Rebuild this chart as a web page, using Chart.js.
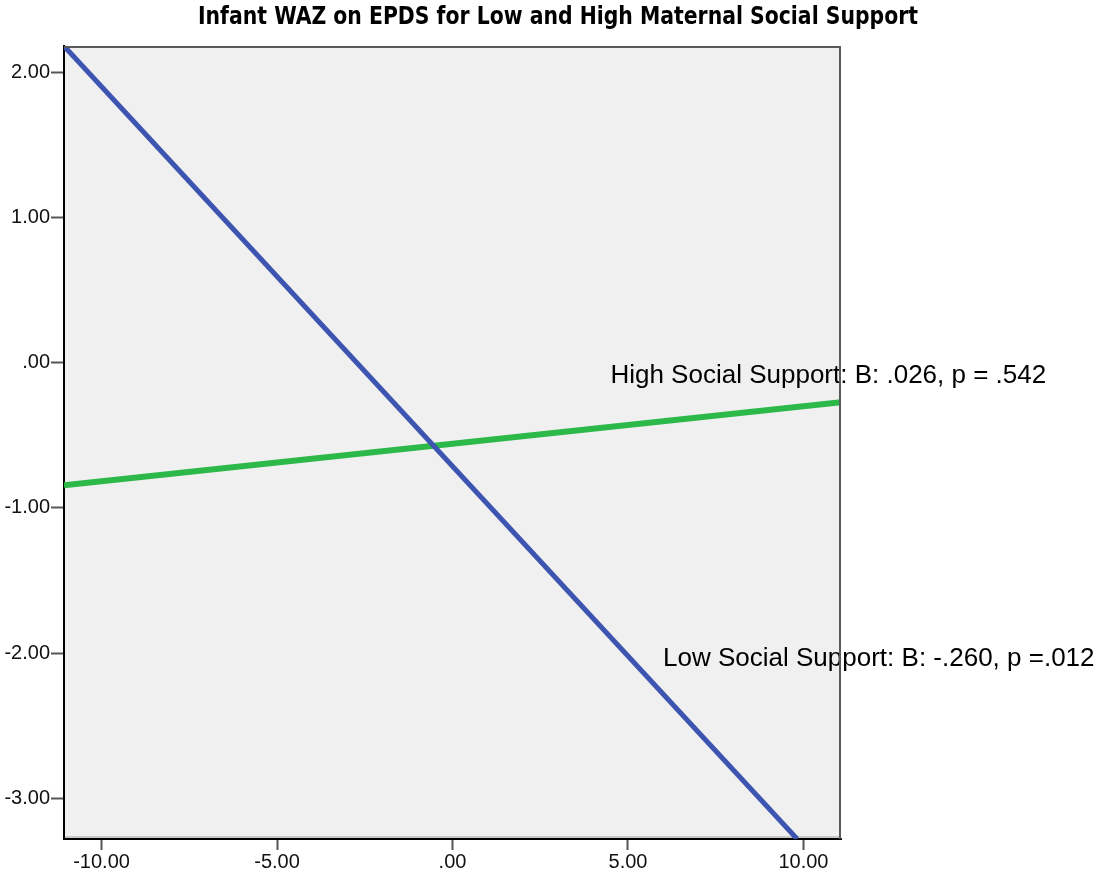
<!DOCTYPE html>
<html>
<head>
<meta charset="utf-8">
<script src="https://cdn.jsdelivr.net/npm/chart.js@4/dist/chart.umd.min.js"></script>
<style>
  html, body { margin: 0; padding: 0; background: #ffffff; }
  #wrap { width: 1099px; height: 877px; }
  canvas { display: block; }
</style>
</head>
<body>
<div id="wrap"><canvas id="c" width="1099" height="877"></canvas></div>
<script>
// Chart text
const chartTitle = 'Infant WAZ on EPDS for Low and High Maternal Social Support';
const lowLabel = 'Low Social Support: B: -.260, p =.012';
const highLabel = 'High Social Support: B: .026, p = .542';

// Axis ticks
const xTicks = [-10, -5, 0, 5, 10];
const yTicks = [2, 1, 0, -1, -2, -3];

// Fitted regression lines (EPDS, centred) -> infant WAZ
const lowX = [-11.07, 9.82];
const lowY = [2.18, -3.28];
const highX = [-11.07, 11.07];
const highY = [-0.845, -0.273];

const FONT = "'Liberation Sans', Arial, sans-serif";

function fmt(v) {
  if (v === 0) return '.00';
  return (v < 0 ? '-' : '') + Math.abs(v).toFixed(2);
}
function pts(xs, ys) { return xs.map((x, i) => ({ x: x, y: ys[i] })); }

// Panel background, frame, title and the two line annotations
const panelPlugin = {
  id: 'panel',
  beforeDraw(chart) {
    const { ctx, chartArea: a } = chart;
    ctx.save();
    ctx.fillStyle = '#f0f0f0';
    ctx.fillRect(a.left, a.top, a.right - a.left, a.bottom - a.top);
    // soft inner edge above the x axis
    ctx.fillStyle = '#c9c9c9';
    ctx.fillRect(a.left, a.bottom - 3, a.right - a.left, 2);
    ctx.restore();
  },
  afterDraw(chart, args, opts) {
    const { ctx, chartArea: a, scales } = chart;
    ctx.save();
    // title
    ctx.fillStyle = '#000';
    ctx.font = "bold 25px 'Liberation Sans Narrow', 'DejaVu Sans Condensed', " + FONT;
    ctx.textBaseline = 'alphabetic';
    ctx.textAlign = 'left';
    const w = ctx.measureText(chartTitle).width;
    const sx = opts.titleWidth / w;
    ctx.translate(opts.titleCenter - opts.titleWidth / 2, opts.titleBaseline);
    ctx.scale(sx, 1);
    ctx.fillText(chartTitle, 0, 0);
    ctx.restore();

    ctx.save();
    ctx.fillStyle = '#000';
    ctx.font = opts.labelSize + 'px ' + FONT;
    ctx.textBaseline = 'alphabetic';
    ctx.textAlign = 'left';
    opts.labels.forEach(l => {
      ctx.fillText(l.text, scales.x.getPixelForValue(l.at[0]), scales.y.getPixelForValue(l.at[1]));
    });
    // top and right frame lines
    ctx.strokeStyle = '#5a5a5a';
    ctx.lineWidth = 2;
    ctx.beginPath();
    ctx.moveTo(a.left, a.top + 1);
    ctx.lineTo(a.right - 1, a.top + 1);
    ctx.lineTo(a.right - 1, a.bottom);
    ctx.stroke();
    ctx.restore();
  }
};

const tickFont = { family: FONT, size: 20 };

new Chart(document.getElementById('c'), {
  type: 'scatter',
  data: {
    datasets: [
      {
        label: 'Low Social Support',
        data: pts(lowX, lowY),
        showLine: true,
        borderColor: '#3d55b0',
        borderWidth: 5,
        pointRadius: 0,
        clip: 0
      },
      {
        label: 'High Social Support',
        data: pts(highX, highY),
        showLine: true,
        borderColor: '#2db84a',
        borderWidth: 6,
        pointRadius: 0,
        clip: 0
      }
    ]
  },
  options: {
    responsive: false,
    animation: false,
    devicePixelRatio: 1,
    layout: { padding: { left: 0, top: 46, right: 258, bottom: 0 } },
    plugins: {
      legend: { display: false },
      tooltip: { enabled: false },
      title: { display: false },
      panel: {
        titleCenter: 558,
        titleWidth: 720,
        titleBaseline: 24,
        labelSize: 26,
        labels: [
          { text: highLabel, at: [4.5, -0.14] },
          { text: lowLabel, at: [6.0, -2.09] }
        ]
      }
    },
    scales: {
      x: {
        type: 'linear',
        min: -11.07,
        max: 11.07,
        afterBuildTicks: s => { s.ticks = xTicks.map(v => ({ value: v })); },
        afterFit: s => { s.height = 38; },
        grid: { drawOnChartArea: false, tickLength: 11, tickColor: '#555', tickWidth: 2 },
        border: { color: '#000', width: 2 },
        ticks: { font: tickFont, color: '#111', padding: 0, maxRotation: 0, autoSkip: false, callback: v => fmt(v) }
      },
      y: {
        type: 'linear',
        min: -3.28,
        max: 2.18,
        afterBuildTicks: s => { s.ticks = yTicks.map(v => ({ value: v })); },
        afterFit: s => { s.width = 64; },
        grid: { drawOnChartArea: false, tickLength: 13, tickColor: '#555', tickWidth: 2 },
        border: { color: '#000', width: 2 },
        ticks: { font: tickFont, color: '#111', padding: 1, autoSkip: false, callback: v => fmt(v) }
      }
    }
  },
  plugins: [panelPlugin]
});
</script>
</body>
</html>
